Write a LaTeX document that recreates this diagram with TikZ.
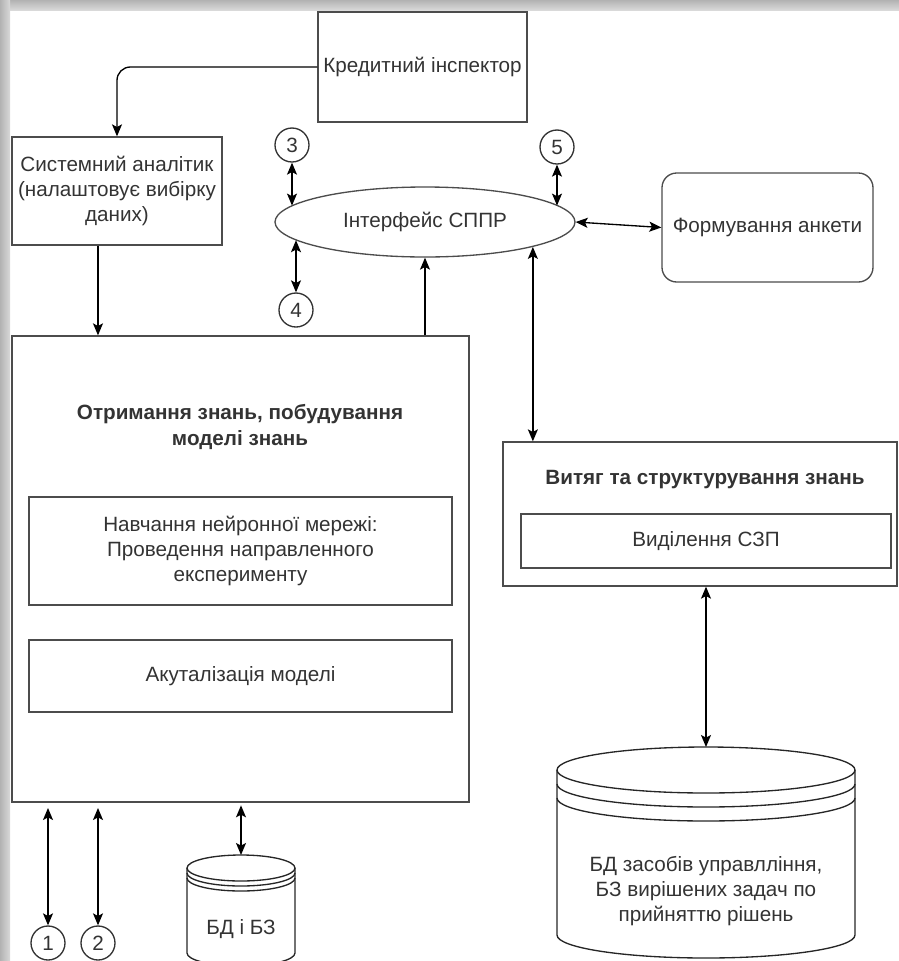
\documentclass[tikz,border=0pt]{standalone}
\usepackage{fontspec}
\setmainfont{Liberation Sans}
\usetikzlibrary{arrows.meta,positioning,shapes.geometric,calc}

\newcommand{\txtsize}{\fontsize{15.5}{19}\selectfont}

\tikzset{every picture/.style={line width=1pt}}
\tikzset{
  boxnode/.style={draw=black!70, rectangle, inner sep=1pt, align=center, text=black!80, font=\txtsize},
  ovalnode/.style={draw=black!70, ellipse, inner sep=0pt, align=center, text=black!80, font=\txtsize},
  ringnode/.style={draw=black!80, circle, inner sep=0pt, minimum size=25.5pt, text=black!80, font=\txtsize},
  textnode/.style={inner sep=1pt, align=center, text=black!80, font=\txtsize},
  titlenode/.style={textnode, font=\txtsize\bfseries},
  drumline/.style={draw=black!85},
  arr/.style={draw=black, -{Stealth[length=9pt,width=7.5pt,inset=2pt]}},
  darr/.style={draw=black, {Stealth[length=9pt,width=7.5pt,inset=2pt]}-{Stealth[length=9pt,width=7.5pt,inset=2pt]}}
}

% datastore drum: left x, right x, top centre y, bottom centre y, y radius, ring gap
\newcommand{\dbdrum}[6]{%
  \pgfmathsetmacro{\drumrx}{(#2-#1)/2}
  \draw[drumline] (#1,#3) -- (#1,#4) arc (180:0:{\drumrx} and #5) -- (#2,#3);
  \draw[drumline] ({(#1+#2)/2},#3) ellipse ({\drumrx} and #5);
  \foreach \k in {1,2} \draw[drumline] (#1,#3+\k*#6) arc (180:0:{\drumrx} and #5);
}

\begin{document}
\begin{tikzpicture}[x=0.75pt,y=0.75pt,yscale=-1,xscale=1]
\useasboundingbox (0,0) rectangle (899,961);
\clip (0,0) rectangle (899,961);

%Shadow edges
\shade[top color=gray!60, bottom color=gray!30] (0,0) rectangle (899,10);
\shade[left color=gray!60, right color=gray!30] (0,0) rectangle (10,961);

%Upper part
\node[boxnode, minimum width=156.75pt, minimum height=82.5pt] (kred) at (422.5,67) {Кредитний інспектор};
\node[boxnode, minimum width=157.5pt, minimum height=81pt] (analyst) at (117,191) {Системний аналітик\\(налаштовує вибірку\\даних)};
\node[ovalnode, minimum width=225pt, minimum height=52.5pt] (iface) at (425,222) {Інтерфейс СППР};
\node[boxnode, rounded corners=11pt, minimum width=158.25pt, minimum height=81.75pt] (anketa) at (767.5,227.5) {Формування анкети};

\node[ringnode] (c3) at (292,145) {3};
\node[ringnode] (c4) at (296,310) {4};
\node[ringnode] (c5) at (557,147) {5};

%Knowledge acquisition block
\node[boxnode, minimum width=342.75pt, minimum height=349.5pt] (main) at (240.5,569) {};
\node[titlenode] (maintitle) at (240,427) {Отримання знань, побудування\\моделі знань};
\node[boxnode, minimum width=317.25pt, minimum height=81pt] (train) at (240.5,551) {Навчання нейронної мережі:\\Проведення направленного\\експерименту};
\node[boxnode, minimum width=317.25pt, minimum height=54pt] (actual) at (240.5,676) {Акуталізація моделі};

%Extraction block
\node[boxnode, minimum width=295.5pt, minimum height=108pt] (extract) at (700,514) {};
\node[titlenode] (extitle) at (705,480) {Витяг та структурування знань};
\node[boxnode, minimum width=277.5pt, minimum height=40.5pt] (szp) at (706,541) {Виділення СЗП};

%Data stores
\dbdrum{557}{855}{770}{935}{23}{14}
\coordinate (bigtop) at (706,747);
\node[textnode] (bigdb) at (706,891) {БД засобів управлління,\\ БЗ вирішених задач по\\прийняттю рішень};

\dbdrum{187}{295}{868}{953}{13}{5}
\coordinate (smalltop) at (241,855);
\node[textnode] (smalldb) at (241,929) {БД і БЗ};

\node[ringnode] (c1) at (48,943) {1};
\node[ringnode] (c2) at (98,943) {2};

%Connectors
\draw[arr, rounded corners=10pt] (kred.west) -| (analyst.north);
\coordinate (adown) at ($(analyst.south west)!0.41!(analyst.south east)$);
\draw[arr] (adown) -- (adown |- main.north);
\draw[arr] (iface.south |- main.north) -- (iface.south);
\draw[darr] (c3.south) -- (c3.south |- iface.173);
\draw[darr] (c4.north) -- (c4.north |- iface.188);
\draw[darr] (c5.south) -- (c5.south |- iface.7);
\draw[darr] (iface.east) -- (anketa.west);
\draw[darr] (extract.north -| iface.-13) -- (iface.-13);
\draw[darr] (bigtop |- extract.south) -- (bigtop);
\draw[darr, shorten <=4pt] (c1.north |- main.south) -- (c1.north);
\draw[darr, shorten <=4pt] (c2.north |- main.south) -- (c2.north);
\draw[darr, shorten <=2pt] (smalltop |- main.south) -- (smalltop);

\end{tikzpicture}
\end{document}
